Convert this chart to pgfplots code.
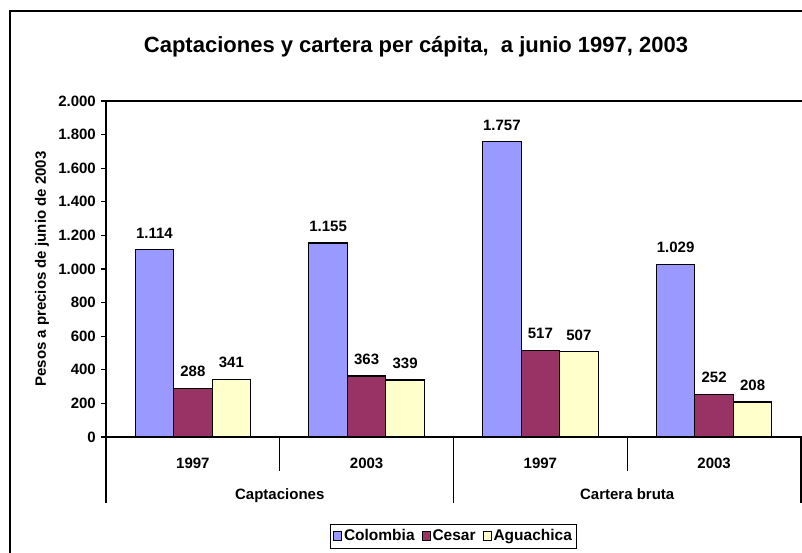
\documentclass[border=0pt]{standalone}
\usepackage{fontspec}
\setmainfont{Liberation Sans}
\usepackage{pgfplots}
\pgfplotsset{compat=1.18}
\definecolor{colombia}{HTML}{9999FF}
\definecolor{cesar}{HTML}{993366}
\definecolor{aguachica}{HTML}{FFFFCC}

\begin{document}
\fontsize{15}{18}\selectfont\bfseries
\begin{tikzpicture}[x=1pt,y=1pt]
\useasboundingbox (0,0) rectangle (802,552);
\draw[line width=1.5pt] (10,-10) -- (10,541) -- (812,541);
\node[font=\fontsize{22}{26}\selectfont\bfseries] at (416,505)
  {Captaciones y cartera per cápita,~ a junio 1997, 2003};
\begin{axis}[
    at={(106pt,115pt)}, anchor=south west,
    scale only axis, width=695pt, height=336pt,
    xmin=-0.5, xmax=3.5, ymin=0, ymax=2000,
    ybar=0pt, bar width=38.5pt,
    axis x line*=bottom, axis y line*=left,
    axis line style={-, line width=1.6pt},
    xtick={0,1,2,3},
    xticklabels={1997,2003,1997,2003},
    x tick style={draw=none},
    xticklabel style={yshift=-11pt},
    ytick={0,200,...,2000},
    tick align=outside, major tick length=5pt,
    y tick style={line width=1.2pt, black},
    /pgf/number format/1000 sep={.},
    /pgf/number format/assume math mode=true,
    tick label style={font=\fontsize{15}{18}\selectfont\bfseries},
    ylabel={Pesos a precios de junio de 2003},
    every axis y label/.style={at={(rel axis cs:0,0.5)}, xshift=-64pt,
        rotate=90, anchor=center, font=\fontsize{15}{18}\selectfont\bfseries},
    nodes near coords,
    every node near coord/.append style={yshift=6pt, black,
        font=\fontsize{15}{18}\selectfont\bfseries},
    clip=false,
    legend columns=3,
    legend style={at={(0.5,-0.259)}, anchor=north, draw=black,
        line width=1.2pt, inner sep=3pt,
        font=\fontsize{15.5}{18}\selectfont\bfseries,
        /tikz/every even column/.append style={column sep=5pt}},
    legend image code/.code={\draw[#1, line width=0.9pt] (0pt,-4.5pt) rectangle (8pt,4.5pt);},
]
\addplot[fill=colombia, draw=black, line width=1.2pt]
  coordinates {(0,1114) (1,1155) (2,1757) (3,1029)};
\addplot[fill=cesar, draw=black, line width=1.2pt]
  coordinates {(0,288) (1,363) (2,517) (3,252)};
\addplot[fill=aguachica, draw=black, line width=1.2pt]
  coordinates {(0,341) (1,339) (2,507) (3,208)};
\legend{Colombia,Cesar,Aguachica}
\draw[line width=1.6pt] (rel axis cs:0,1) -- (rel axis cs:1.05,1);
\draw[line width=1.6pt] (rel axis cs:1,0) -- (rel axis cs:1.05,0);
\draw[line width=1.2pt] (axis cs:0.5,0) -- ([yshift=-34pt]axis cs:0.5,0);
\draw[line width=1.2pt] (axis cs:2.5,0) -- ([yshift=-34pt]axis cs:2.5,0);
\draw[line width=1.2pt] (axis cs:-0.5,0) -- ([yshift=-66pt]axis cs:-0.5,0);
\draw[line width=1.2pt] (axis cs:1.5,0) -- ([yshift=-66pt]axis cs:1.5,0);
\draw[line width=1.2pt] (axis cs:3.5,0) -- ([yshift=-66pt]axis cs:3.5,0);
\node[anchor=base] at ([yshift=-62pt]axis cs:0.5,0) {Captaciones};
\node[anchor=base] at ([yshift=-62pt]axis cs:2.5,0) {Cartera bruta};
\end{axis}
\end{tikzpicture}
\end{document}
